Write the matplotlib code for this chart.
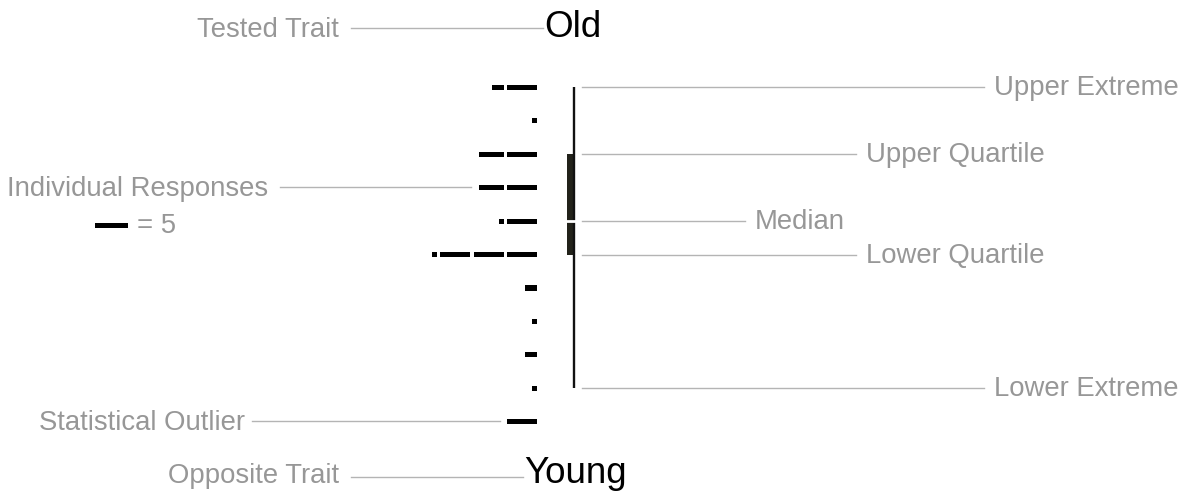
import numpy as np
import matplotlib
matplotlib.use("Agg")
import matplotlib.pyplot as plt
from matplotlib import transforms

# ---- data ----
rows = np.arange(1, 12)                 # scale positions, top (Old) to bottom (Young)
responses = [7, 1, 9, 9, 6, 16, 2, 1, 2, 1, 5]
outlier_row = 11
upper_extreme, lower_extreme = 1, 10
upper_quartile, median, lower_quartile = 3, 5, 6
per_dash = 5

top_label, bottom_label = "Old", "Young"
gray = "#979797"
line_gray = "#b4b4b4"

W, H = 1200, 501
fig = plt.figure(figsize=(W / 100, H / 100), dpi=100)
ax = fig.add_axes([0, 0, 1, 1])
ax.axis("off")
# x: number of responses (grows to the left), y: scale row
ax.set_xlim(537 / 6.667, (537 - W) / 6.667)
ax.set_ylim(1 + (H - 87.3) / 33.45, 1 - 87.3 / 33.45)

plt.rcParams["font.family"] = ["Liberation Sans", "DejaVu Sans"]
fs = 19.8
fs_big = 26.5

# individual responses: one dash per 5 answers, partial dash for the rest
for r, n in zip(rows, responses):
    full, rem = divmod(n, per_dash)
    for k in range(full):
        ax.barh(r, per_dash - 0.5, left=k * per_dash, height=0.15, color="black")
    if rem:
        ax.barh(r, rem - 0.25, left=full * per_dash, height=0.15, color="black")

# box plot drawn in pixel x, row y
xpx = transforms.Affine2D().scale(1 / W, 1) + fig.transFigure
bt = transforms.blended_transform_factory(xpx, ax.transData)
ax.plot([574.2, 574.2], [upper_extreme, lower_extreme], color="#111111", lw=1.7,
        solid_capstyle="butt", transform=bt)
ax.add_patch(plt.Rectangle((567, upper_quartile), 8.3, lower_quartile - upper_quartile,
                           color="#22221a", transform=bt, lw=0))
ax.plot([566, 576], [median, median], color="white", lw=2.0, transform=bt)

# annotations linked to rows
lab = transforms.offset_copy(bt, fig=fig, x=0, y=-8, units="dots")
right_notes = [("Upper Extreme", upper_extreme, 984, 995),
               ("Upper Quartile", upper_quartile, 856, 867),
               ("Median", median, 745, 756),
               ("Lower Quartile", lower_quartile, 856, 867),
               ("Lower Extreme", lower_extreme, 984, 995)]
for txt, r, x1, tx in right_notes:
    ax.plot([582, x1], [r, r], color=line_gray, lw=1.0, transform=bt)
    ax.text(tx - 1, r, txt, color=gray, fontsize=fs, ha="left", va="baseline", transform=lab)

left_notes = [("Individual Responses", 4, 280, 471, 268),
              ("Statistical Outlier", outlier_row, 252, 500, 245)]
for txt, r, x0, x1, tx in left_notes:
    ax.plot([x0, x1], [r - 0.03, r - 0.03], color=line_gray, lw=1.0, transform=bt)
    ax.text(tx, r, txt, color=gray, fontsize=fs, ha="right", va="baseline", transform=lab)

# legend key
ax.barh(5.12, per_dash, left=61.35, height=0.15, color="black")
ax.text(137, 5.12, "= 5", color=gray, fontsize=fs, ha="left", va="baseline", transform=lab)

# trait labels (figure pixels, y from top)
def fp(x, y):
    return x / W, 1 - y / H

for txt, big, y_line, y_base, tx_end, x1 in [("Tested Trait", top_label, 28.3, 37, 339, 543),
                                             ("Opposite Trait", bottom_label, 477.3, 483, 339, 523)]:
    (a, b), (c, d) = fp(351, y_line), fp(x1, y_line)
    fig.add_artist(plt.Line2D([a, c], [b, d], color=line_gray, lw=1.0, transform=fig.transFigure))
    fig.text(*fp(tx_end, y_base), txt, color=gray, fontsize=fs, ha="right", va="baseline")
    fig.text(*fp(x1 + 1, y_base), big, color="black", fontsize=fs_big, ha="left", va="baseline")

fig.savefig("out.png", dpi=100, facecolor="white")
